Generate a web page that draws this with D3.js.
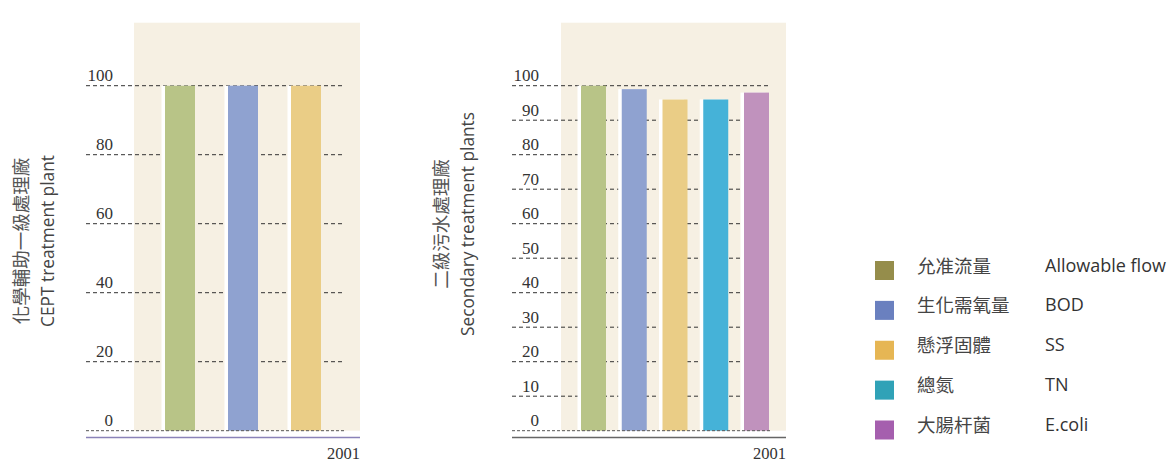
<!DOCTYPE html>
<html>
<head>
<meta charset="utf-8">
<script src="https://cdn.jsdelivr.net/npm/d3@7"></script>
<style>
  html, body { margin: 0; padding: 0; background: #ffffff; }
  svg { display: block; }
</style>
</head>
<body>
<svg id="chart" width="1175" height="473"></svg>
<script>
// ---------- data ----------
const years = ["2001"];
const cepSeries = ["允准流量", "生化需氧量", "懸浮固體"];
const cepValues = [100, 100, 100];
const cepTicks = [0, 20, 40, 60, 80, 100];

const secSeries = ["允准流量", "生化需氧量", "懸浮固體", "總氮", "大腸杆菌"];
const secValues = [100, 99, 96, 96, 98];
const secTicks = [0, 10, 20, 30, 40, 50, 60, 70, 80, 90, 100];

const legendZh = ["允准流量", "生化需氧量", "懸浮固體", "總氮", "大腸杆菌"];
const legendEn = ["Allowable flow", "BOD", "SS", "TN", "E.coli"];

const cepTitle = ["化學輔助一級處理廠", "CEPT treatment plant"];
const secTitle = ["二級污水處理廠", "Secondary treatment plants"];

// ---------- styles ----------
const barColors = ["#b8c487", "#8fa2d0", "#eacd86", "#45b2d8", "#c092bd"];
const legendColors = ["#958d4b", "#6a80bf", "#e6b654", "#30a2b7", "#a55fae"];
const bgColor = "#f6f0e3";
const zhFont = "'Noto Sans CJK TC', 'Noto Sans CJK SC', sans-serif";
const enFont = "'Open Sans', 'DejaVu Sans', sans-serif";
const numFont = "'Liberation Serif', 'DejaVu Serif', serif";

const svg = d3.select("#chart");

const y = d3.scaleLinear().domain([0, 100]).range([430.7, 85.7]);

function panel(cfg) {
  const g = svg.append("g");
  // background
  g.append("rect")
    .attr("x", cfg.bgX0).attr("y", 22.7)
    .attr("width", cfg.bgX1 - cfg.bgX0)
    .attr("height", y(0) - 22.7)
    .attr("fill", bgColor);

  const x = d3.scaleBand()
    .domain(cfg.series)
    .range([cfg.barX0, cfg.barX1])
    .paddingInner(cfg.padInner)
    .paddingOuter(0);

  // gridlines (except zero)
  const grid = g.append("g");
  grid.selectAll("line")
    .data(cfg.ticks.filter(t => t !== 0))
    .join("line")
    .attr("x1", cfg.gridX0).attr("x2", cfg.gridX1)
    .attr("y1", d => y(d)).attr("y2", d => y(d))
    .attr("stroke", "#333")
    .attr("stroke-width", 1)
    .attr("stroke-dasharray", "4,3");

  // white strips behind bars
  g.selectAll("rect.shadow")
    .data(cfg.values)
    .join("rect")
    .attr("class", "shadow")
    .attr("x", (d, i) => x(cfg.series[i]) - 3.5)
    .attr("y", d => y(d))
    .attr("width", x.bandwidth())
    .attr("height", d => y(0) - y(d))
    .attr("fill", "#ffffff");

  // bars
  g.selectAll("rect.bar")
    .data(cfg.values)
    .join("rect")
    .attr("class", "bar")
    .attr("x", (d, i) => x(cfg.series[i]))
    .attr("y", d => y(d))
    .attr("width", x.bandwidth())
    .attr("height", d => y(0) - y(d))
    .attr("fill", (d, i) => barColors[i]);

  // zero line on top
  g.append("line")
    .attr("x1", cfg.gridX0).attr("x2", cfg.gridX1 + 4)
    .attr("y1", y(0)).attr("y2", y(0))
    .attr("stroke", "#555")
    .attr("stroke-width", 1)
    .attr("stroke-dasharray", "3,2");

  // tick labels
  g.selectAll("text.tick")
    .data(cfg.ticks)
    .join("text")
    .attr("class", "tick")
    .attr("x", cfg.labelX)
    .attr("y", d => y(d) - 4.5)
    .attr("text-anchor", "end")
    .attr("font-family", numFont)
    .attr("font-size", 17)
    .attr("fill", "#333")
    .text(d => d);

  // bottom axis line
  g.append("line")
    .attr("x1", cfg.gridX0).attr("x2", cfg.bgX1)
    .attr("y1", 437.5).attr("y2", 437.5)
    .attr("stroke", cfg.axisColor)
    .attr("stroke-width", 1.5);

  // year label
  g.append("text")
    .attr("x", cfg.bgX1).attr("y", 459)
    .attr("text-anchor", "end")
    .attr("font-family", numFont)
    .attr("font-size", 16.5)
    .attr("fill", "#333")
    .text(years[0]);

  // axis titles
  g.append("text")
    .attr("transform", `translate(${cfg.titleZhX},${cfg.titleY}) rotate(-90)`)
    .attr("text-anchor", "middle")
    .attr("dominant-baseline", "central")
    .attr("font-family", zhFont)
    .attr("font-size", 18.5)
    .attr("fill", "#555")
    .text(cfg.title[0]);
  g.append("text")
    .attr("transform", `translate(${cfg.titleEnX},${cfg.titleY}) rotate(-90)`)
    .attr("text-anchor", "middle")
    .attr("dominant-baseline", "central")
    .attr("font-family", enFont)
    .attr("font-size", 17.3)
    .attr("fill", "#444")
    .text(cfg.title[1]);
}

panel({
  series: cepSeries, values: cepValues, ticks: cepTicks,
  bgX0: 134, bgX1: 360,
  barX0: 165, barX1: 321, padInner: 33 / 63,
  gridX0: 86, gridX1: 342, labelX: 113,
  axisColor: "#8a82b8",
  title: cepTitle, titleZhX: 20, titleEnX: 47, titleY: 241
});

panel({
  series: secSeries, values: secValues, ticks: secTicks,
  bgX0: 561, bgX1: 786,
  barX0: 581, barX1: 769, padInner: 63 / 163,
  gridX0: 512, gridX1: 768, labelX: 539,
  axisColor: "#666",
  title: secTitle, titleZhX: 440, titleEnX: 467, titleY: 224
});

// ---------- legend ----------
const legY = d3.scalePoint().domain(legendEn).range([270.5, 430]);
const leg = svg.append("g");
const rows = leg.selectAll("g")
  .data(legendEn)
  .join("g")
  .attr("transform", d => `translate(0,${legY(d)})`);
rows.append("rect")
  .attr("x", 875).attr("y", -9.5)
  .attr("width", 19).attr("height", 19)
  .attr("fill", (d, i) => legendColors[i]);
rows.append("text")
  .attr("x", 917).attr("y", -6)
  .attr("dominant-baseline", "central")
  .attr("font-family", zhFont)
  .attr("font-size", 18.5)
  .attr("fill", "#444")
  .text((d, i) => legendZh[i]);
rows.append("text")
  .attr("x", 1045).attr("y", -6)
  .attr("dominant-baseline", "central")
  .attr("font-family", enFont)
  .attr("font-size", 18)
  .attr("fill", "#333")
  .text(d => d);
</script>
</body>
</html>
